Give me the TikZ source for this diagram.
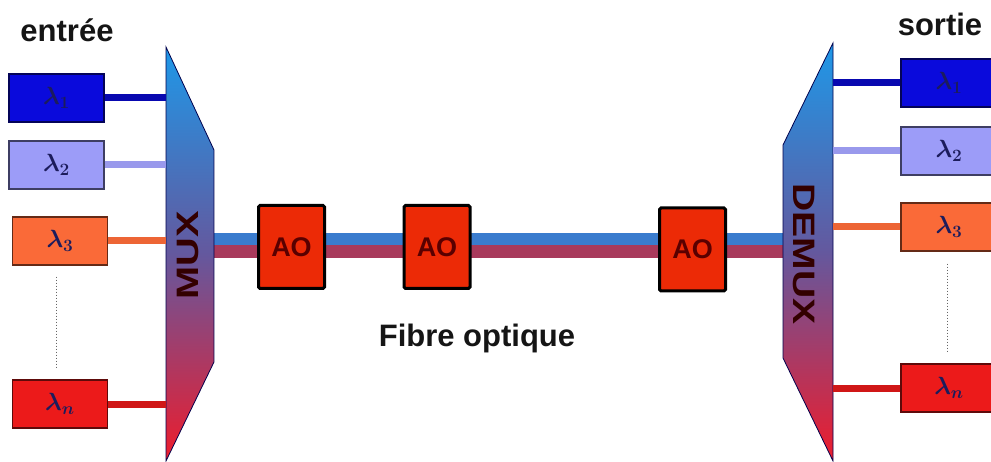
\documentclass[tikz,border=0pt]{standalone}
\usepackage{fontspec}
\setmainfont{Liberation Sans}
\usepackage{tikz}
\usetikzlibrary{positioning, calc}
\definecolor{lamone}{HTML}{0A0ADC}
\definecolor{lamtwo}{HTML}{9C9CF8}
\definecolor{lamthree}{HTML}{FA6A38}
\definecolor{lamn}{HTML}{EC1A1A}
\definecolor{muxtop}{HTML}{1E98E8}
\definecolor{muxmid}{HTML}{64589E}
\definecolor{muxbot}{HTML}{EE1C2C}
\definecolor{fibreblue}{HTML}{3A7CCE}
\definecolor{fibrered}{HTML}{A83A5C}
\definecolor{aofill}{HTML}{EC2A06}
\definecolor{inktext}{HTML}{151515}
\definecolor{lamtext}{HTML}{1C1C5C}

\begin{document}
\begin{tikzpicture}[
    x=1pt, y=-1pt,
    lam/.style={draw, line width=1.2pt, minimum width=95pt, minimum height=48pt, inner sep=0pt, font=\fontsize{27}{27}\selectfont\boldmath, text=lamtext},
    amp/.style={draw=black, line width=3pt, fill=aofill, rounded corners=1.5pt, minimum width=66pt, minimum height=83pt, inner sep=0pt, font=\bfseries\fontsize{27}{27}\selectfont, text=black!65!red},
    title/.style={font=\bfseries\fontsize{31}{31}\selectfont, text=inktext, inner sep=0pt},
    feed/.style={line width=7pt},
    dots/.style={black!60, line width=1pt, dotted},
    mux/.style={draw=black!70!blue, line width=0.8pt, top color=muxtop, bottom color=muxbot, middle color=muxmid},
    muxtext/.style={font=\bfseries\fontsize{31}{31}\selectfont, text=black!80!red, inner sep=0pt}]

  \fill[white] (0,0) rectangle (991,462);
  \clip (0,0) rectangle (991,462);

  % Edges of the two multiplexers, and the ends of the fibre.
  \coordinate (muxL) at (166,254);
  \coordinate (muxR) at (214,245);
  \coordinate (demuxL) at (783,245);
  \coordinate (demuxR) at (833,254);

  % The fibre, two strands side by side.
  \draw[fibreblue, line width=12pt] ($(muxR)+(0,-6)$) -- ($(demuxL)+(0,-6)$);
  \draw[fibrered, line width=13pt] ($(muxR)+(0,6.5)$) -- ($(demuxL)+(0,6.5)$);

  \shadedraw[mux] (166,47) -- (214,150) -- (214,362) -- (166,461) -- cycle;
  \shadedraw[mux] (833,43) -- (783,145) -- (783,358) -- (833,461) -- cycle;
  \node[muxtext, rotate=90] (muxlabel) at (188,255) {\scalebox{1.28}[1]{MUX}};
  \node[muxtext, rotate=-90] (demuxlabel) at (804,254) {\scalebox{1.26}[1]{DEMUX}};

  % Inputs, one wavelength each.
  \node[title] (entree) at (67,30) {entrée};
  \foreach \n/\c/\x/\y in {1/lamone/56.5/98, 2/lamtwo/56.5/165, 3/lamthree/60/241, n/lamn/60/404}
    \node[lam, fill=\c, draw=\c!40!black] (in\n) at (\x,\y) {$\lambda_\n$};
  \foreach \n/\c in {1/lamone!80!black, 2/lamtwo!90!gray, 3/lamthree!95!black, n/lamn!88!black}
    \draw[feed, \c] (in\n.east) -- (in\n.east -| muxL);
  \draw[dots, shorten <=11pt, shorten >=12pt] ([xshift=-4pt]in3.south) -- ([xshift=-4pt]inn.north);

  % Outputs after the demultiplexer.
  \node[title] (sortie) at (940,24) {sortie};
  \foreach \n/\c/\y in {1/lamone/83, 2/lamtwo/151, 3/lamthree/227, n/lamn/388}
    \node[lam, fill=\c, draw=\c!40!black, minimum width=96pt] (out\n) at (949,\y) {$\lambda_\n$};
  \foreach \n/\c in {1/lamone!80!black, 2/lamtwo!90!gray, 3/lamthree!95!black, n/lamn!88!black}
    \draw[feed, \c] (out\n.west -| demuxR) -- (out\n.west);
  \draw[dots, shorten <=12pt, shorten >=12pt] ([xshift=-2pt]out3.south) -- ([xshift=-2pt]outn.north);

  % Optical amplifiers along the line.
  \foreach \i/\x/\y in {1/291.5/247, 2/437/247, 3/692.5/249.5}
    \node[amp] (ao\i) at (\x,\y) {AO};
  \node[title] (fibre) at (477,338) {Fibre optique};
\end{tikzpicture}
\end{document}
